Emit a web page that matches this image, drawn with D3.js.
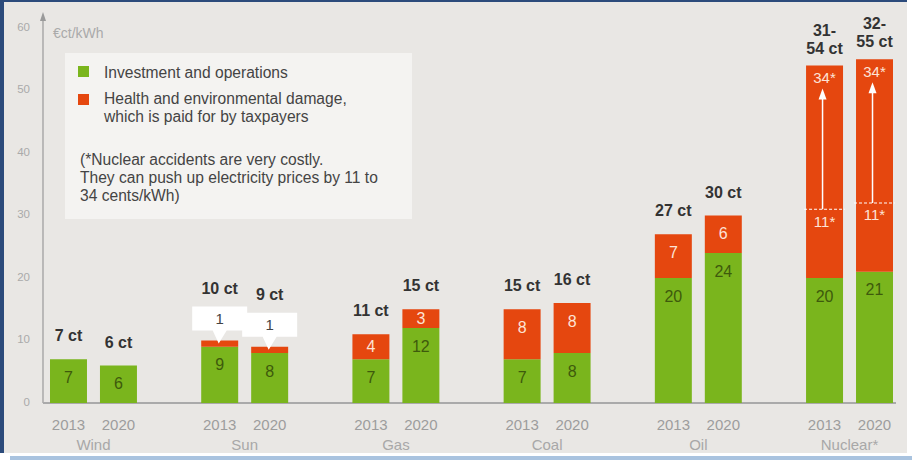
<!DOCTYPE html>
<html>
<head>
<meta charset="UTF-8">
<title>Cost of electricity</title>
<style type="text/css">
	body { margin: 0; background: #fff; }
	svg { display: block; font-family: "Liberation Sans", Arial, sans-serif; }
</style>
</head>
<body>
<div class="chartBox"></div>
<script src="https://cdn.jsdelivr.net/npm/d3@7/dist/d3.min.js"></script>
<script type="text/javascript">
	// data
	var groups = ["Wind", "Sun", "Gas", "Coal", "Oil", "Nuclear*"];
	var years = ["2013", "2020"];
	var investment = [7, 6, 9, 8, 7, 12, 7, 8, 20, 24, 20, 21];
	var damage = [0, 0, 1, 1, 4, 3, 8, 8, 7, 6, 34, 34];
	var damageLow = [null, null, null, null, null, null, null, null, null, null, 11, 11]; // nuclear: 11 to 34
	var totalLabels = ["7 ct", "6 ct", "10 ct", "9 ct", "11 ct", "15 ct", "15 ct", "16 ct", "27 ct", "30 ct", "31-|54 ct", "32-|55 ct"];
	var yTicks = [0, 10, 20, 30, 40, 50, 60];

	var width = 912, height = 460;
	var green = "#7ab51d", red = "#e5470f";

	var svg = d3.select(".chartBox").append("svg")
		.attr("width", width)
		.attr("height", height);

	// frame and background
	svg.append("rect").attr("x", 0).attr("y", 0).attr("width", 907).attr("height", 453).attr("fill", "#e9e7e4");
	svg.append("rect").attr("x", 0).attr("y", 0).attr("width", 907).attr("height", 2).attr("fill", "#2c4b7b");
	svg.append("rect").attr("x", 0).attr("y", 0).attr("width", 4).attr("height", 453).attr("fill", "#2c4b7b");
	svg.append("rect").attr("x", 10).attr("y", 456).attr("width", 902).attr("height", 4).attr("fill", "#a9c3df");

	// scales
	var y = d3.scaleLinear().domain([0, 60]).range([403, 28]);
	var x0 = d3.scaleBand().domain(groups).range([50, 893]).paddingInner(0.425).paddingOuter(0);
	var x1 = d3.scaleBand().domain(years).range([0, x0.bandwidth()]).paddingInner(0.26).paddingOuter(0);

	var rows = [];
	groups.forEach(function(g, gi) {
		years.forEach(function(yr, yi) {
			var i = gi * 2 + yi;
			rows.push({
				group: g, year: yr,
				inv: investment[i], dmg: damage[i], low: damageLow[i],
				label: totalLabels[i]
			});
		});
	});
	function bx(d) { return x0(d.group) + x1(d.year); }
	var bw = x1.bandwidth();

	// y axis
	var yAxis = d3.axisLeft(y).tickValues(yTicks).tickSize(0).tickPadding(0);
	var ya = svg.append("g").attr("transform", "translate(30,0)").call(yAxis);
	ya.select(".domain").remove();
	ya.selectAll("text").attr("fill", "#aaa").attr("font-size", 11.5).attr("dy", "0.2em")
		.attr("font-family", "Liberation Sans, Arial, sans-serif");

	svg.append("line").attr("x1", 43).attr("x2", 43).attr("y1", 18).attr("y2", 403)
		.attr("stroke", "#9a9a9a").attr("stroke-width", 1.2);
	svg.append("path").attr("d", "M43,12 L40,21 L46,21 Z").attr("fill", "#9a9a9a");
	svg.append("text").attr("x", 53).attr("y", 38).attr("fill", "#aaa").attr("font-size", 14).text("€ct/kWh");

	// x axis
	var xa = svg.append("g").attr("transform", "translate(0,403)");
	xa.append("line").attr("x1", 43).attr("x2", 896).attr("stroke", "#aaa").attr("stroke-width", 2);
	xa.selectAll(".yr").data(rows).enter().append("text")
		.attr("x", function(d) { return bx(d) + bw / 2; })
		.attr("y", 27).attr("text-anchor", "middle")
		.attr("fill", "#9d9d9d").attr("font-size", 15)
		.text(function(d) { return d.year; });
	xa.selectAll(".grp").data(groups).enter().append("text")
		.attr("x", function(d) { return x0(d) + x0.bandwidth() / 2; })
		.attr("y", 47).attr("text-anchor", "middle")
		.attr("fill", "#a8a8a8").attr("font-size", 15)
		.text(function(d) { return d; });

	// bars
	var bar = svg.selectAll(".bar").data(rows).enter().append("g").attr("class", "bar");
	bar.append("rect")
		.attr("x", bx).attr("width", bw)
		.attr("y", function(d) { return y(d.inv); })
		.attr("height", function(d) { return y(0) - y(d.inv); })
		.attr("fill", green);
	bar.filter(function(d) { return d.dmg > 0; }).append("rect")
		.attr("x", bx).attr("width", bw)
		.attr("y", function(d) { return y(d.inv + d.dmg); })
		.attr("height", function(d) { return y(d.inv) - y(d.inv + d.dmg); })
		.attr("fill", red);

	// labels inside segments
	function segY(lo, hi) {
		var mid = (y(lo) + y(hi)) / 2;
		return Math.min(mid, y(hi) + 18);
	}
	bar.append("text")
		.attr("x", function(d) { return bx(d) + bw / 2; })
		.attr("y", function(d) { return segY(0, d.inv); })
		.attr("dy", "0.35em").attr("text-anchor", "middle")
		.attr("fill", "#3e5a0c").attr("font-size", 16)
		.text(function(d) { return d.inv; });
	bar.filter(function(d) { return d.dmg > 1 && d.low == null; }).append("text")
		.attr("x", function(d) { return bx(d) + bw / 2; })
		.attr("y", function(d) { return segY(d.inv, d.inv + d.dmg); })
		.attr("dy", "0.35em").attr("text-anchor", "middle")
		.attr("fill", "#fde3d6").attr("font-size", 16)
		.text(function(d) { return d.dmg; });

	// nuclear: dashed line at the low estimate, arrow to the high one
	var nuc = bar.filter(function(d) { return d.low != null; });
	nuc.append("line")
		.attr("x1", function(d) { return bx(d) - 2; })
		.attr("x2", function(d) { return bx(d) + bw + 2; })
		.attr("y1", function(d) { return y(d.inv + d.low); })
		.attr("y2", function(d) { return y(d.inv + d.low); })
		.attr("stroke", "#fff").attr("stroke-width", 1).attr("stroke-dasharray", "3,2");
	nuc.append("line")
		.attr("x1", function(d) { return bx(d) + bw / 2 - 2; })
		.attr("x2", function(d) { return bx(d) + bw / 2 - 2; })
		.attr("y1", function(d) { return y(d.inv + d.low); })
		.attr("y2", function(d) { return y(d.inv + d.dmg) + 30; })
		.attr("stroke", "#fff").attr("stroke-width", 1.5);
	nuc.append("path")
		.attr("d", function(d) {
			var cx = bx(d) + bw / 2 - 2, t = y(d.inv + d.dmg) + 23;
			return "M" + cx + "," + t + " L" + (cx - 4) + "," + (t + 11) + " L" + (cx + 4) + "," + (t + 11) + " Z";
		})
		.attr("fill", "#fff");
	nuc.append("text")
		.attr("x", function(d) { return bx(d) + bw / 2; })
		.attr("y", function(d) { return y(d.inv + d.dmg) + 12; })
		.attr("dy", "0.35em").attr("text-anchor", "middle")
		.attr("fill", "#fde3d6").attr("font-size", 15)
		.text(function(d) { return d.dmg + "*"; });
	nuc.append("text")
		.attr("x", function(d) { return bx(d) + bw / 2; })
		.attr("y", function(d) { return y(d.inv + d.low) + 12; })
		.attr("dy", "0.35em").attr("text-anchor", "middle")
		.attr("fill", "#fde3d6").attr("font-size", 15)
		.text(function(d) { return d.low + "*"; });

	// callouts for the small sun values
	var call = bar.filter(function(d) { return d.dmg === 1; });
	call.append("path")
		.attr("d", function(d) {
			var cx = bx(d) + bw / 2, t = y(d.inv + d.dmg), b = t - 10, h = 24, w = 55;
			return "M" + (cx - w / 2) + "," + (b - h) + " H" + (cx + w / 2) + " V" + b +
				" H" + (cx + 7) + " L" + (cx - 1) + "," + (t + 3) + " L" + (cx - 7) + "," + b +
				" H" + (cx - w / 2) + " Z";
		})
		.attr("fill", "#fff");
	call.append("text")
		.attr("x", function(d) { return bx(d) + bw / 2; })
		.attr("y", function(d) { return y(d.inv + d.dmg) - 22; })
		.attr("dy", "0.35em").attr("text-anchor", "middle")
		.attr("fill", "#444").attr("font-size", 15)
		.text(function(d) { return d.dmg; });

	// totals above bars
	bar.each(function(d) {
		var lines = d.label.split("|");
		var off = d.dmg === 1 ? 47 : (d.low != null ? 12 : 18);
		var base = y(d.inv + d.dmg) - off;
		var t = d3.select(this).append("text")
			.attr("text-anchor", "middle")
			.attr("fill", "#333").attr("font-size", 16).attr("font-weight", "bold");
		lines.forEach(function(s, i) {
			t.append("tspan")
				.attr("x", bx(d) + bw / 2)
				.attr("y", base - (lines.length - 1 - i) * 18)
				.text(s);
		});
	});

	// legend box
	var lg = svg.append("g");
	lg.append("rect").attr("x", 65).attr("y", 53).attr("width", 347).attr("height", 166).attr("fill", "#f4f3f1");
	lg.append("rect").attr("x", 78).attr("y", 66).attr("width", 11).attr("height", 11).attr("fill", green);
	lg.append("rect").attr("x", 78).attr("y", 94).attr("width", 11).attr("height", 11).attr("fill", red);
	var legendLines = [
		[104, 78, "Investment and operations"],
		[104, 104, "Health and environmental damage,"],
		[104, 122, "which is paid for by taxpayers"],
		[80, 165, "(*Nuclear accidents are very costly."],
		[80, 183, "They can push up electricity prices by 11 to"],
		[80, 201, "34 cents/kWh)"]
	];
	lg.selectAll(".lt").data(legendLines).enter().append("text")
		.attr("x", function(d) { return d[0]; })
		.attr("y", function(d) { return d[1]; })
		.attr("fill", "#444").attr("font-size", 15.6)
		.text(function(d) { return d[2]; });
</script>
</body>
</html>
